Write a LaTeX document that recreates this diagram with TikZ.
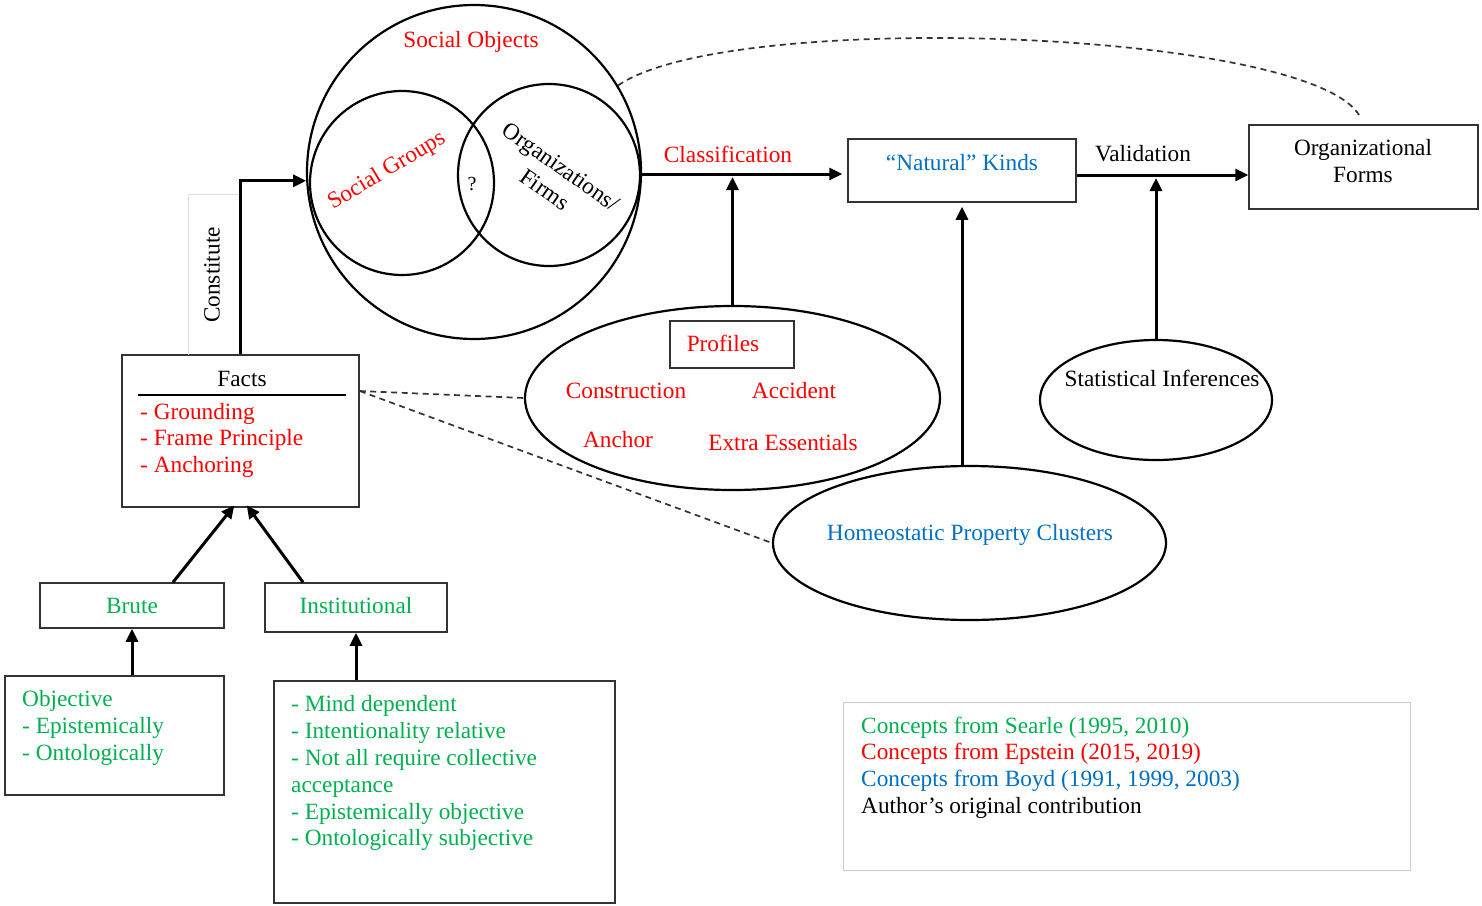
\documentclass[tikz,border=0pt]{standalone}
\usepackage{fontspec}
\setmainfont{Liberation Serif}
\usetikzlibrary{arrows.meta,shapes.geometric}
\definecolor{sgreen}{RGB}{0,176,80}
\definecolor{ered}{RGB}{255,0,0}
\definecolor{bblue}{RGB}{0,112,192}
\begin{document}
\begin{tikzpicture}[x=1pt,y=-1pt,
  lbl/.style={font=\fontsize{23.3}{28}\selectfont, inner sep=0pt},
  cl/.style={lbl, anchor=base},
  ll/.style={lbl, anchor=base west},
  boxnode/.style={draw=black!80, line width=1.5pt, inner sep=0pt, rectangle},
  ring/.style={circle, draw, line width=2.2pt, inner sep=0pt},
  oval/.style={ellipse, draw, line width=2.2pt, inner sep=0pt},
  arr/.style={line width=3pt, -{Triangle[length=13pt,width=12pt]}},
  dsh/.style={line width=1.7pt, black!80, dash pattern=on 6pt off 4.5pt}
]
\useasboundingbox (0,0) rectangle (1482,905);

% ---- Social objects and its two overlapping sets
\node[ring, minimum size=334pt] (soc) at (474,172) {};
\node[ring, minimum size=184pt] (grp) at (402,183) {};
\node[ring, minimum size=182pt] (org) at (549,175) {};
\node[cl, text=ered] (socT) at (471,47) {Social Objects};
\node[lbl, text=ered, rotate=31] (grpT) at (387,171) {Social Groups};
\node[lbl, align=center, rotate=-35] (orgT) at (553,178) {Organizations/\\Firms};
\node[cl, font=\fontsize{20}{24}\selectfont] (q) at (472,190) {?};

% ---- Facts
\node[boxnode, minimum width=237pt, minimum height=152pt] (facts) at (240.5,431) {};
\node[cl] (factsT) at (242,386) {Facts};
\draw[line width=2.6pt] (138,395) -- (346,395);
\node[ll, text=ered] (f1) at (140,419) {- Grounding};
\node[ll, text=ered] (f2) at (140,445) {- Frame Principle};
\node[ll, text=ered] (f3) at (140,472) {- Anchoring};

% faint frame of the rotated label
\draw[black!12, line width=0.6pt] (188,355) |- (239,194);
\node[lbl, rotate=90] (constT) at (212,275) {Constitute};
\draw[arr] (facts.north) |- (soc.183);

% ---- Brute / Institutional
\node[boxnode, minimum width=184pt, minimum height=45pt] (brute) at (132,605.5) {};
\node[cl, text=sgreen] (bruteT) at (132,613) {Brute};
\node[boxnode, minimum width=182pt, minimum height=49pt] (inst) at (356,607.5) {};
\node[cl, text=sgreen] (instT) at (356,613) {Institutional};

\node[boxnode, minimum width=219pt, minimum height=119pt] (bdesc) at (114.5,735.5) {};
\node[ll, text=sgreen] (b1) at (22,706) {Objective};
\node[ll, text=sgreen] (b2) at (22,733) {- Epistemically};
\node[ll, text=sgreen] (b3) at (22,760) {- Ontologically};

\node[boxnode, minimum width=341pt, minimum height=222pt] (idesc) at (444.5,792) {};
\node[ll, text=sgreen] (i1) at (291,711) {- Mind dependent};
\node[ll, text=sgreen] (i2) at (291,738) {- Intentionality relative};
\node[ll, text=sgreen] (i3) at (291,765) {- Not all require collective};
\node[ll, text=sgreen] (i4) at (291,792) {acceptance};
\node[ll, text=sgreen] (i5) at (291,819) {- Epistemically objective};
\node[ll, text=sgreen] (i6) at (291,845) {- Ontologically subjective};

\draw[arr, shorten >=-3pt] ([xshift=41pt]brute.north) -- ([xshift=-8pt]facts.south);
\draw[arr, shorten >=-3pt] ([xshift=-53pt]inst.north) -- ([xshift=8pt]facts.south);
\draw[arr] (bdesc.north -| brute.south) -- (brute.south);
\draw[arr] (idesc.north -| inst.south) -- (inst.south);

% ---- Natural kinds and organizational forms
\node[boxnode, minimum width=228pt, minimum height=63pt] (nk) at (962,170.5) {};
\node[cl, text=bblue] (nkT) at (962,170) {“Natural” Kinds};
\node[boxnode, minimum width=229pt, minimum height=84pt] (ofm) at (1363.5,167) {};
\node[cl] (ofm1) at (1363,155) {Organizational};
\node[cl] (ofm2) at (1363,182) {Forms};

\draw[arr, shorten >=5pt] ([yshift=-2pt]soc.east) -- ([yshift=-2pt]soc.east -| nk.west);
\node[cl, text=ered] (classT) at (728,162) {Classification};
\draw[arr] ([yshift=-4.5pt]nk.east) -- ([yshift=-4.5pt]nk.east -| ofm.west);
\node[cl] (valT) at (1143,161) {Validation};

% ---- Profiles
\node[oval, minimum width=415pt, minimum height=184pt] (prof) at (732.5,398) {};
\node[boxnode, minimum width=124pt, minimum height=47pt] (profB) at (732,344.5) {};
\node[cl, text=ered] (profT) at (723,351) {Profiles};
\node[cl, text=ered] (p1) at (626,398) {Construction};
\node[cl, text=ered] (p2) at (794,398) {Accident};
\node[cl, text=ered] (p3) at (618,447) {Anchor};
\node[cl, text=ered] (p4) at (783,450) {Extra Essentials};
\draw[arr, shorten >=3pt] (prof.north) -- ([yshift=-2pt]prof.north |- soc.east);

% ---- Homeostatic property clusters
\node[oval, minimum width=393pt, minimum height=154pt] (hpc) at (969.5,543) {};
\node[cl, text=bblue] (hpcT) at (970,540) {Homeostatic Property Clusters};
\draw[arr, shorten >=4pt] (hpc.north -| nk.south) -- (nk.south);

% ---- Statistical inferences
\node[oval, minimum width=232pt, minimum height=120pt] (si) at (1156,400) {};
\node[cl] (siT) at (1162,386) {Statistical Inferences};
\draw[arr, shorten >=3pt] (si.north) -- ([yshift=-4.5pt]si.north |- nk.east);

% ---- dashed relations
\draw[dsh] ([yshift=40pt]facts.east) -- (prof.west);
\draw[dsh] ([yshift=40pt]facts.east) -- (hpc.west);
\draw[dsh, shorten >=7pt] (soc.31) .. controls (730,8) and (1320,30) .. (ofm.north);

% ---- legend
\node[draw=black!20, line width=0.8pt, minimum width=567pt, minimum height=168pt, inner sep=0pt] (leg) at (1126.5,786) {};
\node[ll, text=sgreen] (l1) at (861,733) {Concepts from Searle (1995, 2010)};
\node[ll, text=ered] (l2) at (861,759) {Concepts from Epstein (2015, 2019)};
\node[ll, text=bblue] (l3) at (861,786) {Concepts from Boyd (1991, 1999, 2003)};
\node[ll] (l4) at (861,813) {Author’s original contribution};
\end{tikzpicture}
\end{document}
